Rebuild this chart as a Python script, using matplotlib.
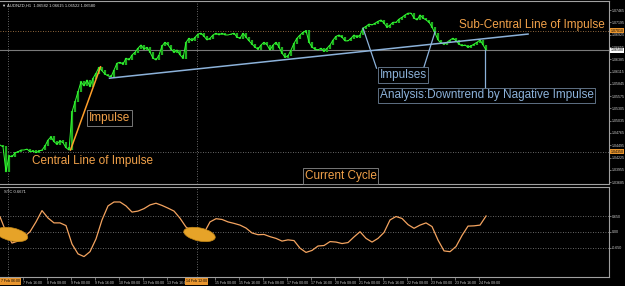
import numpy as np
import matplotlib.pyplot as plt
import matplotlib.transforms as mtransforms
from matplotlib.patches import Ellipse

plt.rcParams['font.family'] = ['Liberation Sans', 'DejaVu Sans']

# AUDNZD H1 closes, one value every 2 bars
closes = [
    1.0450, 1.0446, 1.0391, 1.0426, 1.0424, 1.0433, 1.0435, 1.0439, 1.0439, 1.0441,
    1.0435, 1.0437, 1.0433, 1.0437, 1.0439, 1.0448, 1.0461, 1.0468, 1.0457, 1.0452,
    1.0459, 1.0455, 1.0444, 1.0439, 1.0523, 1.0545, 1.0567, 1.0589, 1.0580, 1.0593,
    1.0578, 1.0597, 1.0608, 1.0621, 1.0613, 1.0606, 1.0602, 1.0600, 1.0615, 1.0630,
    1.0632, 1.0628, 1.0641, 1.0637, 1.0648, 1.0654, 1.0663, 1.0670, 1.0661, 1.0665,
    1.0654, 1.0641, 1.0637, 1.0648, 1.0668, 1.0676, 1.0670, 1.0661, 1.0654, 1.0659,
    1.0648, 1.0641, 1.0676, 1.0685, 1.0679, 1.0687, 1.0694, 1.0696, 1.0689, 1.0681,
    1.0685, 1.0692, 1.0696, 1.0692, 1.0696, 1.0692, 1.0692, 1.0694, 1.0696, 1.0687,
    1.0685, 1.0696, 1.0687, 1.0679, 1.0672, 1.0665, 1.0661, 1.0670, 1.0676, 1.0670,
    1.0659, 1.0670, 1.0676, 1.0665, 1.0652, 1.0643, 1.0646, 1.0659, 1.0674, 1.0685,
    1.0692, 1.0698, 1.0701, 1.0676, 1.0665, 1.0661, 1.0659, 1.0663, 1.0656, 1.0663,
    1.0670, 1.0681, 1.0689, 1.0692, 1.0687, 1.0679, 1.0679, 1.0685, 1.0692, 1.0687,
    1.0692, 1.0707, 1.0711, 1.0716, 1.0714, 1.0718, 1.0722, 1.0725, 1.0718, 1.0709,
    1.0714, 1.0720, 1.0720, 1.0727, 1.0731, 1.0736, 1.0740, 1.0740, 1.0729, 1.0725,
    1.0736, 1.0729, 1.0725, 1.0720, 1.0709, 1.0696, 1.0681, 1.0674, 1.0672, 1.0676,
    1.0681, 1.0685, 1.0679, 1.0672, 1.0668, 1.0670, 1.0665, 1.0668, 1.0672, 1.0676,
    1.0681, 1.0670, 1.0659,
]

# oscillator, one value every 4 bars
osc = [
    0.62, 0.00, -0.45, -0.37, -0.20, 0.01, 0.41, 0.87, 0.57, 0.37,
    0.37, 0.26, -0.49, -0.89, -1.00, -0.80, -0.28, 0.49, 1.06, 1.22,
    1.22, 1.06, 0.81, 0.85, 0.95, 1.10, 1.17, 1.08, 0.97, 0.85,
    0.56, 0.20, 0.04, -0.05, -0.04, 0.41, 0.54, 0.51, 0.41, 0.35,
    0.28, 0.16, -0.04, -0.11, -0.10, -0.19, -0.26, -0.37, -0.32, -0.35,
    -0.66, -0.83, -0.75, -0.57, -0.55, -0.39, -0.41, -0.47, -0.43, -0.20,
    0.01, -0.26, -0.41, -0.26, -0.02, 0.49, 0.63, 0.55, 0.30, 0.15,
    0.28, 0.37, 0.22, -0.33, -0.77, -0.80, -0.59, -0.14, 0.24, 0.25,
    0.28, 0.65,
]

# tick at bar 127 (14 Feb 08:00) is hidden under the vertical-line label
time_ticks = [15, 31, 47, 63, 79, 95, 111, 143, 159,
              175, 191, 207, 223, 239, 255, 271, 287, 303, 319]
time_labels = ["7 Feb 16:00", "8 Feb 08:00", "9 Feb 00:00", "9 Feb 16:00", "10 Feb 08:00",
               "13 Feb 00:00", "13 Feb 16:00", "15 Feb 00:00", "15 Feb 16:00",
               "16 Feb 08:00", "17 Feb 00:00", "17 Feb 16:00", "20 Feb 08:00", "21 Feb 00:00",
               "21 Feb 16:00", "22 Feb 08:00", "23 Feb 00:00", "23 Feb 16:00", "24 Feb 08:00"]
price_ticks = [1.07465, 1.07195, 1.06925, 1.06655, 1.06385, 1.06115, 1.05845, 1.05575,
               1.05305, 1.05035, 1.04765, 1.04495, 1.04225, 1.03955, 1.03685]
osc_levels = [0.65, 0.0, -0.65]
osc_labels = ["0.650", "0.00", "-0.650"]

bid = 1.0658
level_prices = [1.0701, 1.0435]
level_labels = ["1.07010", "1.04350"]
vline_bars = [5, 131]
vline_labels = ["7 Feb 06:00", "14 Feb 12:00"]

impulse_bars, impulse_prices = [47, 67], [1.0439, 1.0622]
trend_bars, trend_prices = [73, 352], [1.0597, 1.0694]
pointer_bars = [[242, 251], [290, 282], [323, 323]]
pointer_prices = [[1.0707, 1.0619], [1.0699, 1.0615], [1.0659, 1.0573]]
ellipse_bars = [8, 133]
ellipse_vals = [-0.10, -0.10]

ORANGE = '#f2a24a'
BLUE = '#8cb2da'
GRID = '#8a8a8a'

fig = plt.figure(figsize=(6.25, 2.86), dpi=100, facecolor='black')
ax = fig.add_axes([0, 0.3566, 0.974, 0.64], facecolor='black')
ax2 = fig.add_axes([0, 0.0315, 0.974, 0.3147], facecolor='black')

for a in (ax, ax2):
    a.set_xlim(0, 405.8)
    for s in a.spines.values():
        s.set_color('#a0a0a0')
        s.set_linewidth(0.8)
    a.spines['left'].set_visible(False)
    a.yaxis.tick_right()
    a.tick_params(axis='y', colors='#a0a0a0', labelcolor='#cfcfcf', labelsize=2.6,
                  length=1.5, width=0.5, pad=0.8)
    for b in vline_bars:
        a.axvline(b, color=GRID, lw=0.6, ls=(0, (1, 2)))

# main price panel
ax.set_ylim(1.03642, 1.07668)
ax.set_yticks(price_ticks)
ax.set_yticklabels(["%.5f" % p for p in price_ticks])
ax.set_xticks([])
ax.axhline(level_prices[0], color='#c08a50', lw=0.6, ls=(0, (1, 2)))
ax.axhline(level_prices[1], color=GRID, lw=0.6, ls=(0, (1, 2)))
ax.axhline(bid, color='#7a7a7a', lw=0.8)

bars = np.arange(len(closes)) * 2
c = np.array(closes)
prev = np.r_[c[0], c[:-1]]
ax.vlines(bars, np.minimum(prev, c) - 0.0001, np.maximum(prev, c) + 0.0001,
          color='#1fae1f', lw=1.6)
ax.plot(bars, c, color='#33ff33', lw=0.7)

ax.plot(impulse_bars, impulse_prices, color='#ff9f2a', lw=1.1)
ax.plot(trend_bars, trend_prices, color=BLUE, lw=1.1)
for xb, yp in zip(pointer_bars, pointer_prices):
    ax.plot(xb, yp, color=BLUE, lw=0.9)

blend = mtransforms.blended_transform_factory(ax.transAxes, ax.transData)
ax.text(1.003, bid, "1.06580", transform=blend, fontsize=2.6, va='center', color='black',
        bbox=dict(boxstyle='square,pad=0.15', fc='white', ec='none'), clip_on=False)
for p, lab in zip(level_prices, level_labels):
    ax.text(1.003, p, lab, transform=blend, fontsize=2.6, va='center', color='black',
            bbox=dict(boxstyle='square,pad=0.15', fc='#e8952e', ec='none'), clip_on=False)

ax.text(0.004, 0.985, "\u25bc AUDNZD,H1  1.06582 1.06615 1.06522 1.06580",
        transform=ax.transAxes, fontsize=3, color='#e0e0e0', va='top')

box_o = dict(boxstyle='square,pad=0.15', fc='black', ec='#8a8a8a', lw=0.6)
box_b = dict(boxstyle='square,pad=0.15', fc='black', ec='#6d8299', lw=0.6)
ax.text(306, 1.0714, "Sub-Central Line of Impulse", color=ORANGE, fontsize=8.5, va='center')
ax.text(253, 1.0604, "Impulses", color=BLUE, fontsize=8.5, va='center', bbox=box_b)
ax.text(253, 1.0559, "Analysis:Downtrend by Nagative Impulse", color=BLUE, fontsize=8.5,
        va='center', bbox=box_b)
ax.text(59, 1.0509, "Impulse", color=ORANGE, fontsize=8.5, va='center', bbox=box_o)
ax.text(21, 1.0415, "Central Line of Impulse", color=ORANGE, fontsize=8.5, va='center')
ax.text(203, 1.0382, "Current Cycle", color=ORANGE, fontsize=8.5, va='center', bbox=box_o)

# oscillator panel
ax2.set_ylim(-1.83, 1.83)
ax2.set_yticks(osc_levels)
ax2.set_yticklabels(osc_labels)
for lv in osc_levels:
    ax2.axhline(lv, color=GRID, lw=0.6, ls=(0, (1, 2)))
ax2.plot(np.arange(len(osc)) * 4, osc, color='#f4a460', lw=0.9)
for xb, yv in zip(ellipse_bars, ellipse_vals):
    tr = mtransforms.ScaledTranslation(xb, yv, ax2.transData)
    ax2.add_patch(Ellipse((0, 0), 32, 13, angle=-12, transform=tr,
                          fc='#e6a328', ec='#c88a18', lw=0.5, zorder=3))
ax2.text(0.006, 0.97, "STC 0.6671", transform=ax2.transAxes, fontsize=3,
         color='#e0e0e0', va='top')

ax2.set_xticks(time_ticks)
ax2.set_xticklabels(time_labels, ha='left')
ax2.tick_params(axis='x', colors='#a0a0a0', labelcolor='#cfcfcf', labelsize=2.5,
                length=2, width=0.5, pad=1)
xblend = mtransforms.blended_transform_factory(ax2.transData, ax2.transAxes)
ax2.text(0.5, -0.05, vline_labels[0], transform=xblend, fontsize=2.5, ha='left',
         va='center', color='black', clip_on=False,
         bbox=dict(boxstyle='square,pad=0.3', fc='#e8952e', ec='none'))
ax2.text(vline_bars[1], -0.05, vline_labels[1], transform=xblend, fontsize=2.5,
         ha='center', va='center', color='black', clip_on=False,
         bbox=dict(boxstyle='square,pad=0.3', fc='#e8952e', ec='none'))

fig.savefig('out.png', dpi=100, facecolor='black')
